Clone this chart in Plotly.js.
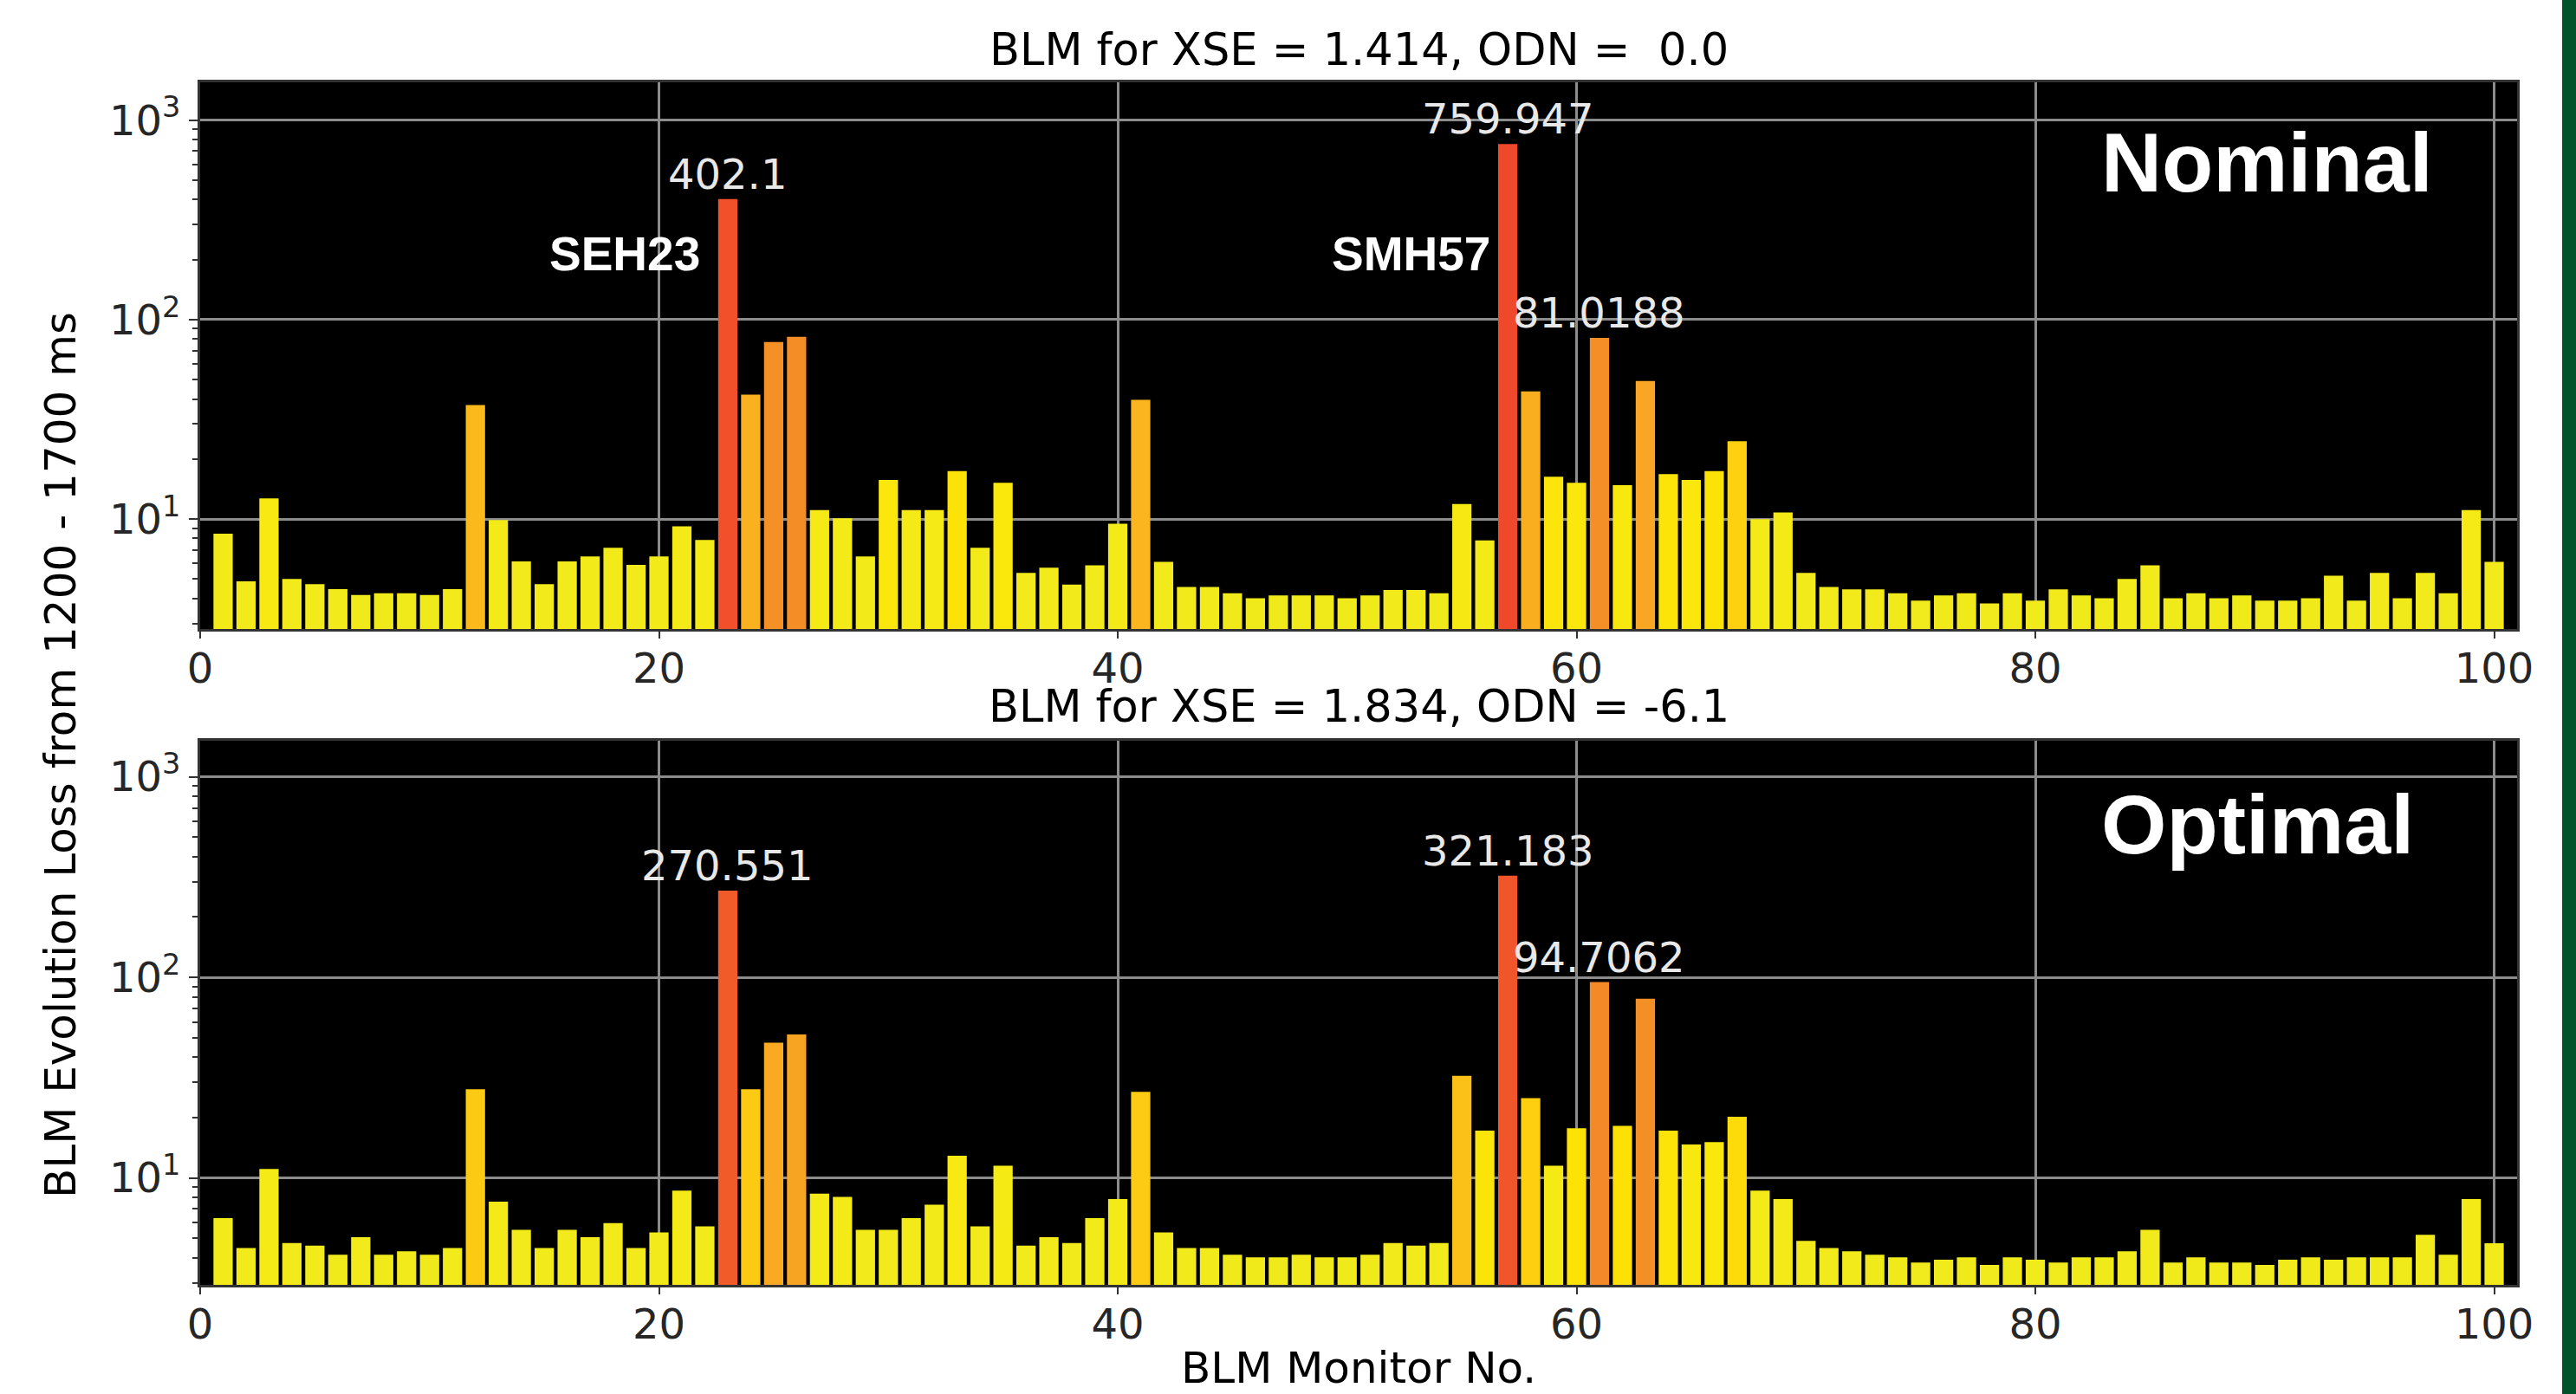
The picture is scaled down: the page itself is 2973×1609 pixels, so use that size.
<!DOCTYPE html>
<html>
<head>
<meta charset="utf-8">
<script src="https://cdn.plot.ly/plotly-3.0.1.min.js"></script>
<style>
  html, body { margin: 0; padding: 0; background: #ffffff; }
  #chart { width: 2973px; height: 1609px; }
</style>
</head>
<body>
<div id="chart"></div>
<script>
// ---------------- data ----------------
const panelTitles = ["BLM for XSE = 1.414, ODN =  0.0", "BLM for XSE = 1.834, ODN = -6.1"];
const panelTags = ["Nominal", "Optimal"];
const xTickVals = [0, 20, 40, 60, 80, 100];
const yTickVals = [10, 100, 1000];
const yTickText = ["10<sup>1</sup>", "10<sup>2</sup>", "10<sup>3</sup>"];
const xAxisTitle = "BLM Monitor No.";
const yAxisTitle = "BLM Evolution Loss from 1200 - 1700 ms";

// loss per BLM monitor (monitor 1..100), nominal settings
const nominalLoss = [
  8.44, 4.88, 12.7, 5.01, 4.72, 4.45, 4.16, 4.25, 4.25, 4.16,
  4.45, 37.3, 9.9, 6.13, 4.72, 6.13, 6.50, 7.19, 5.89, 6.50,
  9.21, 7.85, 402.1, 42.1, 77.3, 82.0, 11.1, 10.1, 6.50, 15.7,
  11.1, 11.1, 17.4, 7.19, 15.2, 5.37, 5.70, 4.70, 5.86, 9.47,
  39.6, 6.11, 4.57, 4.57, 4.25, 4.01, 4.14, 4.14, 4.14, 4.01,
  4.14, 4.41, 4.41, 4.25, 11.9, 7.82, 759.947, 43.7, 16.3, 15.2,
  81.0188, 14.8, 49.3, 16.8, 15.7, 17.4, 24.6, 10.0, 10.8, 5.37,
  4.57, 4.44, 4.44, 4.25, 3.90, 4.14, 4.25, 3.78, 4.25, 3.90,
  4.44, 4.14, 4.01, 5.01, 5.86, 4.01, 4.25, 4.01, 4.14, 3.90,
  3.90, 4.01, 5.20, 3.90, 5.37, 4.01, 5.37, 4.25, 11.1, 6.11
];
// loss per BLM monitor (monitor 1..100), optimal settings
const optimalLoss = [
  6.31, 4.47, 11.1, 4.74, 4.60, 4.14, 5.07, 4.14, 4.31, 4.14,
  4.47, 27.7, 7.62, 5.51, 4.47, 5.51, 5.07, 5.95, 4.47, 5.35,
  8.65, 5.73, 270.551, 27.7, 47.2, 52.0, 8.36, 8.04, 5.51, 5.51,
  6.31, 7.36, 12.9, 5.73, 11.5, 4.60, 5.07, 4.74, 6.31, 7.85,
  26.9, 5.35, 4.47, 4.47, 4.14, 4.02, 4.02, 4.14, 4.02, 4.02,
  4.14, 4.74, 4.60, 4.74, 32.3, 17.2, 321.183, 25.0, 11.5, 17.7,
  94.7062, 18.2, 78.2, 17.2, 14.7, 15.1, 20.2, 8.65, 7.85, 4.85,
  4.47, 4.31, 4.14, 4.02, 3.79, 3.91, 4.02, 3.68, 4.02, 3.91,
  3.79, 4.02, 4.02, 4.31, 5.51, 3.79, 4.02, 3.79, 3.79, 3.68,
  3.91, 4.02, 3.91, 4.02, 4.02, 4.02, 5.20, 4.14, 7.85, 4.72
];
// monitors whose values are printed above the bar
const labelledMonitors = [23, 57, 61];
// named monitors (top panel)
const namedMonitors = ["SEH23", "SMH57"];
const namedMonitorX = [18.5, 52.8];
const namedMonitorY = [214, 214];

// ---------------- figure ----------------
const W = 2973, H = 1609;
const mL = 231, mR = 68, mT = 95, mB = 126;
const pH = H - mT - mB, pW = W - mL - mR;
const py = Y => 1 - (Y - mT) / pH;   // pixel row -> paper y
const px = X => (X - mL) / pW;       // pixel col -> paper x

const monitorNo = nominalLoss.map((_, i) => i + 1);

const colorscale = [
  [0.00, '#f1ea1c'], [0.20, '#f4ea17'], [0.27, '#fae80c'], [0.30, '#fde106'],
  [0.36, '#fdd010'], [0.44, '#fbb81d'], [0.49, '#f8a623'], [0.58, '#f48e26'],
  [0.64, '#f4842a'], [0.74, '#f2692a'], [0.82, '#f1582a'], [0.90, '#f14e2a'],
  [1.00, '#f0482a']
];
const cmin = Math.log10(3.6), cmax = Math.log10(760);

function barTrace(vals, xa, ya) {
  return {
    type: 'bar', x: monitorNo, y: vals, xaxis: xa, yaxis: ya,
    width: 0.84,
    marker: { color: vals.map(v => Math.log10(v)), colorscale: colorscale, cmin: cmin, cmax: cmax, line: { width: 0 } },
    hoverinfo: 'x+y', showlegend: false
  };
}

const minorVals = [];
[1, 10, 100].forEach(d => { for (let k = 2; k <= 9; k++) minorVals.push(k * d); });

const tickFont = { family: 'DejaVu Sans', size: 48, color: '#262626' };
function xAxis(anchor) {
  return {
    anchor: anchor, range: [0, 101], tickmode: 'array', tickvals: xTickVals,
    ticks: 'outside', ticklen: 8, tickwidth: 2, tickcolor: '#333333',
    ticklabelstandoff: -7,
    tickfont: tickFont, showgrid: true, gridcolor: '#8c8c8c', gridwidth: 3,
    showline: true, linecolor: '#333333', linewidth: 3, mirror: true, zeroline: false
  };
}
function yAxis(anchor, domain, range) {
  return {
    anchor: anchor, domain: domain, type: 'log', range: range,
    tickmode: 'array', tickvals: yTickVals, ticktext: yTickText,
    ticks: 'outside', ticklen: 10, tickwidth: 2, tickcolor: '#333333',
    minor: { tickmode: 'array', tickvals: minorVals, ticks: 'outside', ticklen: 6, tickwidth: 2, tickcolor: '#333333', showgrid: false },
    tickfont: tickFont, showgrid: true, gridcolor: '#8c8c8c', gridwidth: 3,
    showline: true, linecolor: '#333333', linewidth: 3, mirror: true, zeroline: false
  };
}

const annotations = [];
const series = [nominalLoss, optimalLoss];
const yRefs = ['y', 'y2'], xRefs = ['x', 'x2'];
series.forEach((vals, p) => {
  labelledMonitors.forEach(m => {
    const v = vals[m - 1];
    annotations.push({
      xref: xRefs[p], yref: yRefs[p], x: m, y: Math.log10(v), text: String(v),
      showarrow: false, xanchor: 'center', yanchor: 'middle', yshift: 29,
      font: { family: 'DejaVu Sans', size: 48, color: '#e8e8e8' }
    });
  });
});
namedMonitors.forEach((name, i) => {
  annotations.push({
    xref: 'x', yref: 'y', x: namedMonitorX[i], y: Math.log10(namedMonitorY[i]), text: '<b>' + name + '</b>',
    showarrow: false, xanchor: 'center', yanchor: 'middle',
    font: { family: 'Liberation Sans', size: 55, color: '#ffffff' }
  });
});
const tagY = [Math.log10(611), Math.log10(578)];
panelTags.forEach((t, p) => {
  annotations.push({
    xref: xRefs[p], yref: yRefs[p], x: 82.8, y: tagY[p], text: '<b>' + t + '</b>',
    showarrow: false, xanchor: 'left', yanchor: 'middle',
    font: { family: 'Liberation Sans', size: 97, color: '#ffffff' }
  });
});
const titleRows = [57, 815];
panelTitles.forEach((t, p) => {
  annotations.push({
    xref: 'paper', yref: 'paper', x: 0.5, y: py(titleRows[p]), text: t,
    showarrow: false, xanchor: 'center', yanchor: 'middle',
    font: { family: 'DejaVu Sans', size: 51, color: '#000000' }
  });
});
annotations.push({
  xref: 'paper', yref: 'paper', x: 0.5, y: py(1579), text: xAxisTitle,
  showarrow: false, xanchor: 'center', yanchor: 'middle',
  font: { family: 'DejaVu Sans', size: 50, color: '#000000' }
});
annotations.push({
  xref: 'paper', yref: 'paper', x: px(70), y: py(872), text: yAxisTitle, textangle: -90,
  showarrow: false, xanchor: 'center', yanchor: 'middle',
  font: { family: 'DejaVu Sans', size: 50, color: '#000000' }
});

const layout = {
  width: W, height: H,
  margin: { l: mL, r: mR, t: mT, b: mB, pad: 0 },
  paper_bgcolor: '#ffffff', plot_bgcolor: '#000000',
  xaxis: xAxis('y'),
  yaxis: yAxis('x', [py(726), 1], [0.449, 3.19]),
  xaxis2: xAxis('y2'),
  yaxis2: yAxis('x2', [0, py(855)], [0.467, 3.18]),
  annotations: annotations,
  shapes: [{
    type: 'rect', xref: 'paper', yref: 'paper', x0: px(2957), x1: px(2990), y0: -0.2, y1: 1.2,
    fillcolor: '#02532a', line: { width: 0 }, layer: 'above'
  }],
  showlegend: false
};

Plotly.newPlot('chart', [barTrace(nominalLoss, 'x', 'y'), barTrace(optimalLoss, 'x2', 'y2')], layout, { displayModeBar: false, staticPlot: true });
</script>
</body>
</html>
